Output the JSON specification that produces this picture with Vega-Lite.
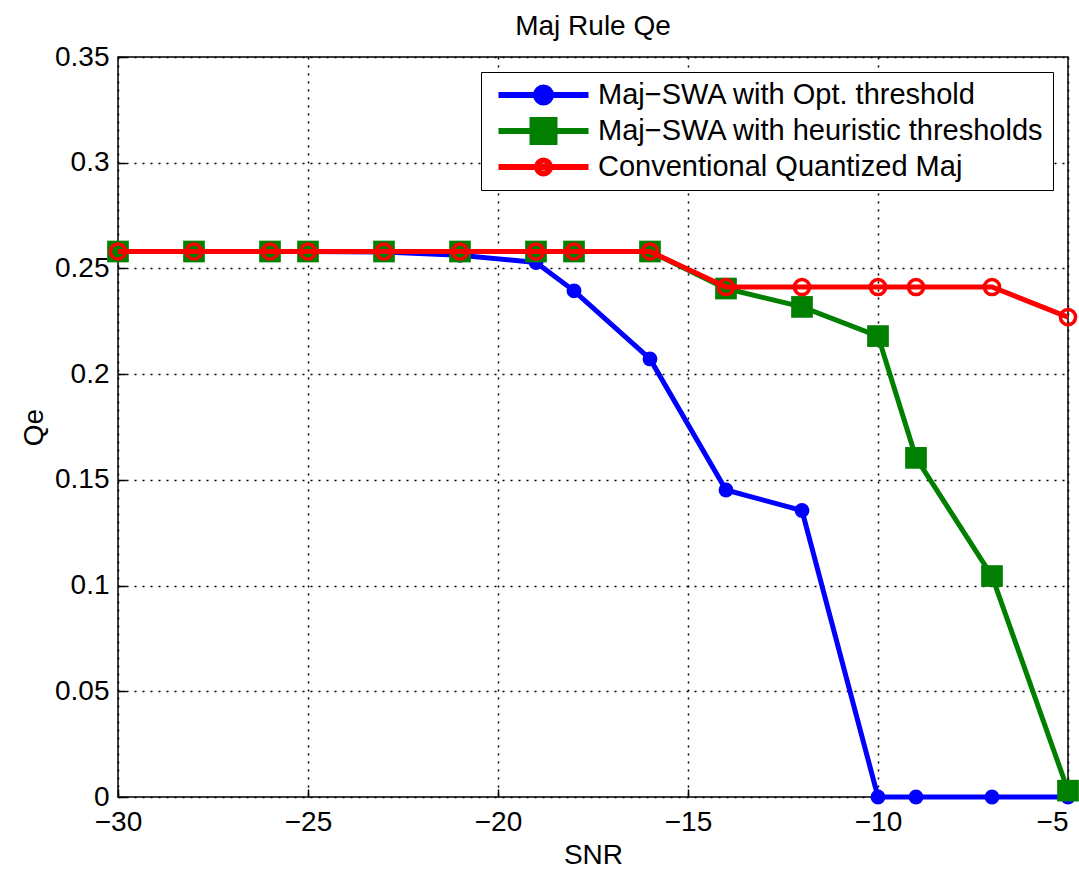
{
  "$schema": "https://vega.github.io/schema/vega-lite/v6.json",
  "width": 950,
  "height": 740,
  "autosize": {"type": "none"},
  "padding": {"left": 118, "top": 57, "right": 11, "bottom": 72},
  "background": "white",
  "title": {"text": "Maj Rule Qe", "fontSize": 28, "fontWeight": "normal", "font": "Liberation Sans", "color": "black", "offset": 2},
  "config": {
    "view": {"stroke": "black", "strokeWidth": 1.5},
    "axis": {
      "domain": false,
      "labelFont": "Liberation Sans",
      "labelFontSize": 28,
      "labelColor": "black",
      "labelFlush": false,
      "titleFont": "Liberation Sans",
      "titleFontSize": 28,
      "titleFontWeight": "normal",
      "titleColor": "black",
      "grid": true,
      "gridColor": "black",
      "gridOpacity": 1,
      "gridDash": [2, 6],
      "gridWidth": 1.5,
      "ticks": true,
      "tickSize": -8,
      "tickColor": "black",
      "tickWidth": 1.5
    }
  },
  "data": {
    "values": [
      {"snr": -30, "qe": 0.258, "s": "Maj−SWA with Opt. threshold"},
      {"snr": -28, "qe": 0.258, "s": "Maj−SWA with Opt. threshold"},
      {"snr": -26, "qe": 0.258, "s": "Maj−SWA with Opt. threshold"},
      {"snr": -25, "qe": 0.258, "s": "Maj−SWA with Opt. threshold"},
      {"snr": -23, "qe": 0.2578, "s": "Maj−SWA with Opt. threshold"},
      {"snr": -21, "qe": 0.2562, "s": "Maj−SWA with Opt. threshold"},
      {"snr": -19, "qe": 0.2528, "s": "Maj−SWA with Opt. threshold"},
      {"snr": -18, "qe": 0.2394, "s": "Maj−SWA with Opt. threshold"},
      {"snr": -16, "qe": 0.2072, "s": "Maj−SWA with Opt. threshold"},
      {"snr": -14, "qe": 0.1452, "s": "Maj−SWA with Opt. threshold"},
      {"snr": -12, "qe": 0.1355, "s": "Maj−SWA with Opt. threshold"},
      {"snr": -10, "qe": 0.0, "s": "Maj−SWA with Opt. threshold"},
      {"snr": -9, "qe": 0.0, "s": "Maj−SWA with Opt. threshold"},
      {"snr": -7, "qe": 0.0, "s": "Maj−SWA with Opt. threshold"},
      {"snr": -5, "qe": 0.0, "s": "Maj−SWA with Opt. threshold"},
      {"snr": -30, "qe": 0.258, "s": "Maj−SWA with heuristic thresholds"},
      {"snr": -28, "qe": 0.258, "s": "Maj−SWA with heuristic thresholds"},
      {"snr": -26, "qe": 0.258, "s": "Maj−SWA with heuristic thresholds"},
      {"snr": -25, "qe": 0.258, "s": "Maj−SWA with heuristic thresholds"},
      {"snr": -23, "qe": 0.258, "s": "Maj−SWA with heuristic thresholds"},
      {"snr": -21, "qe": 0.258, "s": "Maj−SWA with heuristic thresholds"},
      {"snr": -19, "qe": 0.258, "s": "Maj−SWA with heuristic thresholds"},
      {"snr": -18, "qe": 0.258, "s": "Maj−SWA with heuristic thresholds"},
      {"snr": -16, "qe": 0.258, "s": "Maj−SWA with heuristic thresholds"},
      {"snr": -14, "qe": 0.2405, "s": "Maj−SWA with heuristic thresholds"},
      {"snr": -12, "qe": 0.2318, "s": "Maj−SWA with heuristic thresholds"},
      {"snr": -10, "qe": 0.218, "s": "Maj−SWA with heuristic thresholds"},
      {"snr": -9, "qe": 0.1604, "s": "Maj−SWA with heuristic thresholds"},
      {"snr": -7, "qe": 0.1045, "s": "Maj−SWA with heuristic thresholds"},
      {"snr": -5, "qe": 0.003, "s": "Maj−SWA with heuristic thresholds"},
      {"snr": -30, "qe": 0.258, "s": "Conventional Quantized Maj"},
      {"snr": -28, "qe": 0.258, "s": "Conventional Quantized Maj"},
      {"snr": -26, "qe": 0.258, "s": "Conventional Quantized Maj"},
      {"snr": -25, "qe": 0.258, "s": "Conventional Quantized Maj"},
      {"snr": -23, "qe": 0.258, "s": "Conventional Quantized Maj"},
      {"snr": -21, "qe": 0.258, "s": "Conventional Quantized Maj"},
      {"snr": -19, "qe": 0.258, "s": "Conventional Quantized Maj"},
      {"snr": -18, "qe": 0.258, "s": "Conventional Quantized Maj"},
      {"snr": -16, "qe": 0.258, "s": "Conventional Quantized Maj"},
      {"snr": -14, "qe": 0.2412, "s": "Conventional Quantized Maj"},
      {"snr": -12, "qe": 0.2412, "s": "Conventional Quantized Maj"},
      {"snr": -10, "qe": 0.2412, "s": "Conventional Quantized Maj"},
      {"snr": -9, "qe": 0.2412, "s": "Conventional Quantized Maj"},
      {"snr": -7, "qe": 0.2412, "s": "Conventional Quantized Maj"},
      {"snr": -5, "qe": 0.227, "s": "Conventional Quantized Maj"}
    ]
  },
  "encoding": {
    "x": {"field": "snr", "type": "quantitative", "title": "SNR",
      "scale": {"domain": [-30, -5], "nice": false, "zero": false},
      "axis": {"values": [-30, -25, -20, -15, -10, -5], "labelPadding": 19, "titlePadding": 5,
        "labelAlign": {"expr": "datum.value === -5 ? 'right' : 'center'"},
        "labelDx": {"expr": "datum.value === -5 ? 8 : 0"}}},
    "y": {"field": "qe", "type": "quantitative", "title": "Qe",
      "scale": {"domain": [0, 0.35], "nice": false},
      "axis": {"values": [0, 0.05, 0.1, 0.15, 0.2, 0.25, 0.3, 0.35], "format": "~g", "labelPadding": 17, "titlePadding": 6,
        "labelDy": {"expr": "datum.value === 0 ? -6 : 0"}}}
  },
  "layer": [
    {
      "transform": [{"filter": "datum.s === 'Maj−SWA with Opt. threshold'"}],
      "mark": {"type": "line", "strokeWidth": 5},
      "encoding": {
        "color": {"field": "s", "type": "nominal",
          "scale": {"domain": ["Maj−SWA with Opt. threshold", "Maj−SWA with heuristic thresholds", "Conventional Quantized Maj"], "range": ["#0000ff", "#007f00", "#ff0000"]},
          "legend": {
            "title": null,
            "orient": "top-right",
            "offset": 15,
            "strokeColor": "black",
            "fillColor": "white",
            "padding": 8,
            "labelFont": "Liberation Sans",
            "labelFontSize": 29,
            "labelColor": "black",
            "labelLimit": 700,
            "symbolSize": 400,
            "symbolStrokeWidth": 6,
            "labelOffset": 80,
            "clipHeight": 30,
            "rowPadding": 6,
            "encode": {
              "symbols": {
                "update": {
                  "shape": {"signal": "datum.value === 'Maj−SWA with Opt. threshold' ? 'M-0.5,0L8.5,0M3.25,0A0.75,0.75 0 1,0 4.75,0A0.75,0.75 0 1,0 3.25,0Z' : datum.value === 'Maj−SWA with heuristic thresholds' ? 'M-0.5,0L8.5,0M2.9,-1.1L5.1,-1.1L5.1,1.1L2.9,1.1Z' : 'M-0.5,0L8.5,0M3.35,0A0.65,0.65 0 1,0 4.65,0A0.65,0.65 0 1,0 3.35,0Z'"},
                  "fill": {"signal": "datum.value === 'Maj−SWA with Opt. threshold' ? '#0000ff' : datum.value === 'Maj−SWA with heuristic thresholds' ? '#007f00' : 'transparent'"},
                  "stroke": {"signal": "datum.value === 'Maj−SWA with Opt. threshold' ? '#0000ff' : datum.value === 'Maj−SWA with heuristic thresholds' ? '#007f00' : '#ff0000'"},
                  "opacity": {"value": 1},
                  "fillOpacity": {"value": 1},
                  "strokeOpacity": {"value": 1}
                }
              }
            }
          }}
      }
    },
    {
      "transform": [{"filter": "datum.s === 'Maj−SWA with Opt. threshold'"}],
      "mark": {"type": "point", "shape": "circle", "filled": true, "size": 220, "color": "#0000ff", "opacity": 1}
    },
    {
      "transform": [{"filter": "datum.s === 'Maj−SWA with heuristic thresholds'"}],
      "mark": {"type": "line", "strokeWidth": 5},
      "encoding": {"color": {"field": "s", "type": "nominal"}}
    },
    {
      "transform": [{"filter": "datum.s === 'Maj−SWA with heuristic thresholds'"}],
      "mark": {"type": "point", "shape": "square", "filled": true, "size": 470, "color": "#007f00", "opacity": 1}
    },
    {
      "transform": [{"filter": "datum.s === 'Conventional Quantized Maj'"}],
      "mark": {"type": "line", "strokeWidth": 5},
      "encoding": {"color": {"field": "s", "type": "nominal"}}
    },
    {
      "transform": [{"filter": "datum.s === 'Conventional Quantized Maj'"}],
      "mark": {"type": "point", "shape": "circle", "filled": false, "size": 230, "strokeWidth": 3.5, "color": "#ff0000", "opacity": 1}
    }
  ]
}
